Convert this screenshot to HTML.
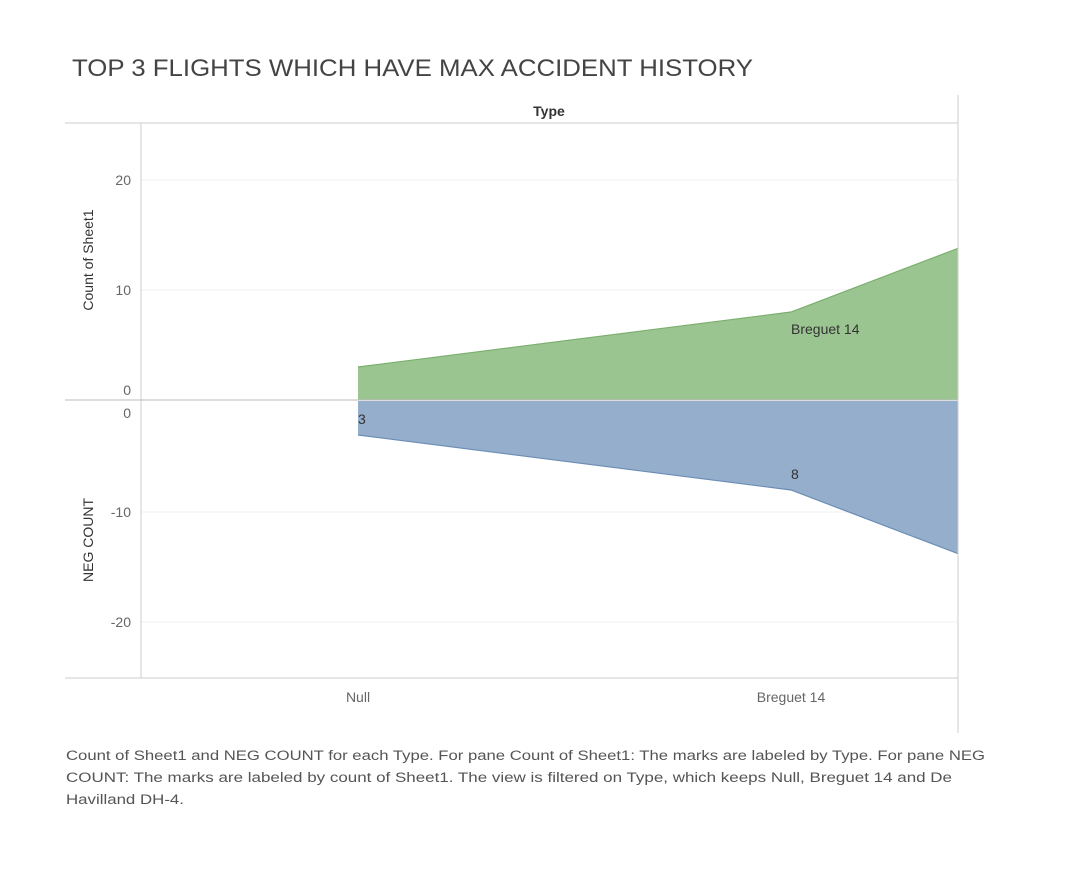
<!DOCTYPE html>
<html><head><meta charset="utf-8"><style>
body{margin:0;background:#fff;width:1080px;height:875px;overflow:hidden;font-family:"Liberation Sans","DejaVu Sans",sans-serif}
svg text{font-family:"Liberation Sans","DejaVu Sans",sans-serif}
</style></head><body>
<svg width="1080" height="875">
<text x="72" y="76" font-size="24" fill="#444" textLength="681" lengthAdjust="spacingAndGlyphs">TOP 3 FLIGHTS WHICH HAVE MAX ACCIDENT HISTORY</text>
<text x="549" y="116" font-size="14" text-anchor="middle" fill="#333" font-weight="bold">Type</text>
<g id="grid"></g>
<defs><clipPath id="cp"><rect x="141" y="123" width="817" height="555"/></clipPath></defs>
<g id="marks" clip-path="url(#cp)"></g>
<line x1="65" y1="123" x2="958" y2="123" stroke="#ccc"/>
<line x1="65" y1="678" x2="958" y2="678" stroke="#ccc"/>
<line x1="141" y1="123" x2="141" y2="678" stroke="#ccc"/>
<line x1="958" y1="95" x2="958" y2="733" stroke="#ccc"/>
<line x1="65" y1="400" x2="958" y2="400" stroke="#bbb"/>
<text transform="translate(93,260) rotate(-90)" font-size="14" text-anchor="middle" fill="#333">Count of Sheet1</text>
<text transform="translate(93,540) rotate(-90)" font-size="14" text-anchor="middle" fill="#333">NEG COUNT</text>
<g id="labels"></g>
<text x="66" y="760" font-size="13.5" fill="#555" textLength="919" lengthAdjust="spacingAndGlyphs">Count of Sheet1 and NEG COUNT for each Type.  For pane Count of Sheet1:  The marks are labeled by Type.  For pane NEG</text>
<text x="66" y="782" font-size="13.5" fill="#555" textLength="886" lengthAdjust="spacingAndGlyphs">COUNT:  The marks are labeled by count of Sheet1. The view is filtered on Type, which keeps Null, Breguet 14 and De</text>
<text x="66" y="804" font-size="13.5" fill="#555" textLength="118" lengthAdjust="spacingAndGlyphs">Havilland DH-4.</text>
</svg>
<script>
const categories=["Null","Breguet 14","De Havilland DH-4"];
const counts=[3,8,23];
const topTicks=[0,10,20];
const bottomTicks=[0,-10,-20];
const NS="http://www.w3.org/2000/svg";
const xPos=i=>358+i*433;
const yTop=v=>400-v*11;
const yBot=v=>402-v*11;
function mk(tag,attrs,parent){const e=document.createElementNS(NS,tag);for(const k in attrs)e.setAttribute(k,attrs[k]);parent.appendChild(e);return e;}
const grid=document.getElementById('grid'),marks=document.getElementById('marks'),labels=document.getElementById('labels');
topTicks.forEach(t=>{
 if(t!==0){const l=mk('line',{x1:141,x2:958,y1:yTop(t),y2:yTop(t),stroke:'#f0f0f0'},grid);
 
 }
 const tx=mk('text',{x:131,y:yTop(t)+(t===0?-5:5),'font-size':14,fill:'#666','text-anchor':'end'},labels);tx.textContent=t;
 
 
});
bottomTicks.forEach(t=>{
 if(t!==0){const l=mk('line',{x1:141,x2:958,y1:yBot(t),y2:yBot(t),stroke:'#f0f0f0'},grid);
 
 }
 const tx=mk('text',{x:131,y:yBot(t)+(t===0?16:5),'font-size':14,fill:'#666','text-anchor':'end'},labels);tx.textContent=t;
 
 
});
let up='',upLine='',dn='',dnLine='';
counts.forEach((v,i)=>{upLine+=(i?'L':'M')+xPos(i)+','+yTop(v);dnLine+=(i?'L':'M')+xPos(i)+','+yBot(-v);});
up=upLine+'L'+xPos(counts.length-1)+',400L'+xPos(0)+',400Z';
dn=dnLine+'L'+xPos(counts.length-1)+',401L'+xPos(0)+',401Z';
const a1=mk('path',{d:up,fill:'#9bc590'},marks);


mk('path',{d:upLine,fill:'none',stroke:'#7aae6d','stroke-width':1.2},marks);
const a2=mk('path',{d:dn,fill:'#94aecb'},marks);


mk('path',{d:dnLine,fill:'none',stroke:'#6a8db5','stroke-width':1.2},marks);
categories.forEach((c,i)=>{
 const x=xPos(i);if(x>958)return;
 const tx=mk('text',{x:x,y:702,'font-size':14,fill:'#666','text-anchor':'middle'},labels);tx.textContent=c;
 
 
 const nl=mk('text',{x:x,y:yBot(-counts[i])-11,'font-size':14,fill:'#333'},labels);nl.textContent=counts[i];
 
 
 if(i>0){const tl=mk('text',{x:x,y:yTop(counts[i])+22,'font-size':14,fill:'#333'},labels);tl.textContent=c;
 
 }
});
</script>
</body></html>
